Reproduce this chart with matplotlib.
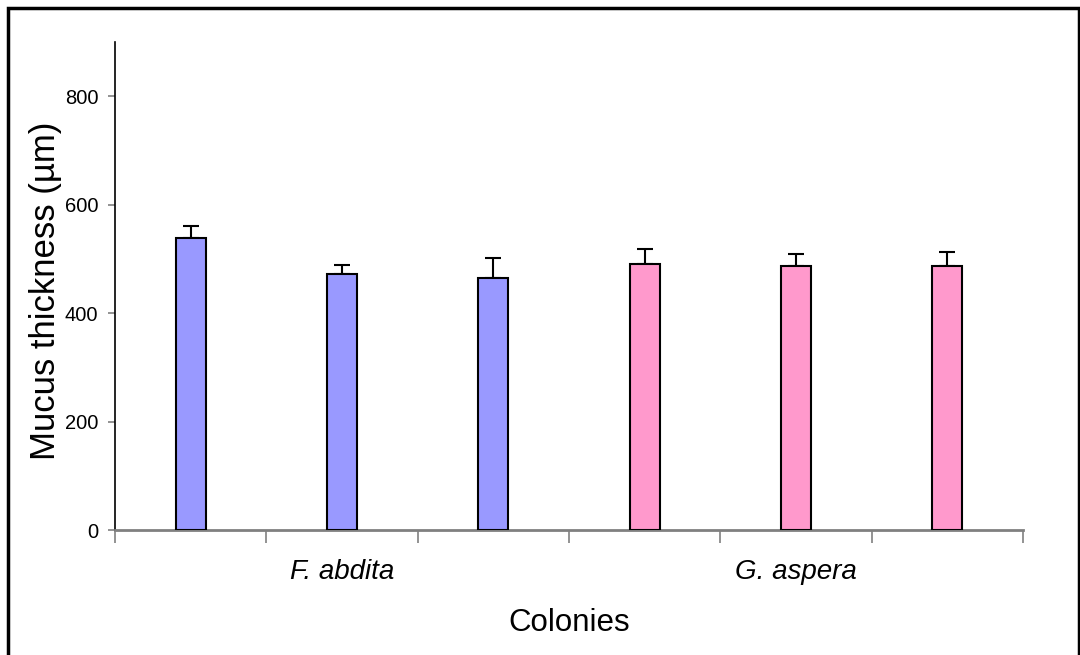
import matplotlib.pyplot as plt
from matplotlib.patches import Rectangle

plt.rcParams["font.family"] = ["Liberation Sans", "DejaVu Sans"]

# colony means and standard errors (µm)
means = [539, 473, 465, 491, 486, 486]
errors = [22, 16, 37, 28, 23, 27]
colors = ["#9999FF"] * 3 + ["#FF99CC"] * 3
groups = ["F. abdita", "G. aspera"]
group_pos = [1, 4]

fig = plt.figure(figsize=(10.8, 6.55), dpi=100)
ax = fig.add_axes([115 / 1080, 1 - 530 / 655, (1023 - 115) / 1080, (530 - 42) / 655])

x = list(range(len(means)))
ax.bar(x, means, width=0.2, color=colors, edgecolor="black", linewidth=1.5, zorder=3)
ax.errorbar(x, means, yerr=[[0] * len(errors), errors], fmt="none",
            ecolor="black", elinewidth=1.5, capsize=6, capthick=1.5, zorder=2)

ax.set_xlim(-0.5, 5.5)
ax.set_ylim(0, 900)
ax.set_yticks([0, 200, 400, 600, 800])
ax.set_xticks([i - 0.5 for i in range(7)])
ax.set_xticklabels([])
ax.tick_params(axis="x", direction="out", length=9, width=1.2, color="#808080")
ax.tick_params(axis="y", direction="out", length=5, width=1.2, color="#808080",
               labelsize=14.5, pad=7)

for s in ["top", "right"]:
    ax.spines[s].set_visible(False)
ax.spines["bottom"].set_color("#808080")
ax.spines["bottom"].set_linewidth(2)
ax.spines["left"].set_color("black")
ax.spines["left"].set_linewidth(1.2)

for name, p in zip(groups, group_pos):
    ax.text(p, -77, name, ha="center", va="center", fontsize=20, style="italic")

ax.set_xlabel("Colonies", fontsize=22.5, labelpad=44)
ax.set_ylabel("Mucus thickness (µm)", fontsize=25)
ax.yaxis.set_label_coords(-0.058, 0.49)

fig.patches.append(Rectangle((8 / 1080, -0.01), 1071 / 1080, 1 - 8 / 655 + 0.01,
                             transform=fig.transFigure, fill=False,
                             edgecolor="black", linewidth=2.5))

fig.savefig("out.png", dpi=100)
